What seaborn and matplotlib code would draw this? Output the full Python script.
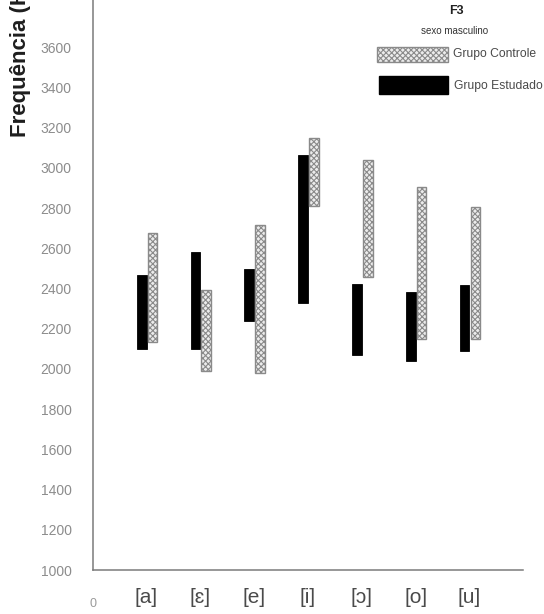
import numpy as np
import pandas as pd
import matplotlib
matplotlib.use("Agg")
import matplotlib.pyplot as plt
from matplotlib.patches import Rectangle
import seaborn as sns

# F3 ranges (Hz) per vowel, male speakers
vowels = ["[a]", "[ɛ]", "[e]", "[i]", "[ɔ]", "[o]", "[u]"]
estudado_low = [2100, 2100, 2240, 2330, 2070, 2040, 2090]
estudado_high = [2470, 2580, 2495, 3065, 2425, 2385, 2420]
controle_low = [2135, 1990, 1980, 2810, 2460, 2150, 2150]
controle_high = [2675, 2395, 2715, 3150, 3040, 2905, 2805]
y_ticks = list(range(1000, 3601, 200))

sns.set_theme(style="white")
plt.rcParams["font.family"] = ["Liberation Sans", "DejaVu Sans"]
plt.rcParams["hatch.linewidth"] = 0.8

pos = np.arange(1, len(vowels) + 1)
bar_w = 0.18

df_est = pd.DataFrame({
    "pos": pos - 0.09,
    "low": estudado_low,
    "span": np.array(estudado_high) - np.array(estudado_low),
})
df_ctl = pd.DataFrame({
    "pos": pos + 0.11,
    "low": controle_low,
    "span": np.array(controle_high) - np.array(controle_low),
})

fig = plt.figure(figsize=(5.44, 6.14), dpi=100)
ax = fig.add_axes([0.1704, 0.07166, 0.7915, 0.933])

sns.barplot(data=df_est, x="pos", y="span", orient="x", native_scale=True,
            width=bar_w, errorbar=None, bottom=df_est["low"].to_numpy(),
            color="black", saturation=1, facecolor="black", edgecolor="black",
            linewidth=0.6, ax=ax)
sns.barplot(data=df_ctl, x="pos", y="span", orient="x", native_scale=True,
            width=bar_w, errorbar=None, bottom=df_ctl["low"].to_numpy(),
            color="#ececec", saturation=1, facecolor="#ececec", edgecolor="#8a8a8a",
            hatch="xxxxxx", linewidth=1.0, ax=ax)

ax.set_xlim(0, 8)
ax.set_ylim(1000, 3850)
ax.set_xlabel("")
ax.set_ylabel("")

for side in ("top", "right"):
    ax.spines[side].set_visible(False)
for side in ("left", "bottom"):
    ax.spines[side].set_color("#7a7a7a")
    ax.spines[side].set_linewidth(1.1)

ax.set_yticks(y_ticks)
ax.set_yticklabels([str(v) for v in y_ticks])
ax.tick_params(axis="y", direction="out", length=9.4, width=1.1,
               color="#707070", labelcolor="#8c8c8c", labelsize=10, pad=5.8)

ax.set_xticks([0, 8])
ax.set_xticklabels(["0", ""])
ax.set_xticks(pos, vowels, minor=True)
ax.tick_params(axis="x", which="major", direction="out", length=13, width=1.1,
               color="#707070", labelcolor="#9a9a9a", labelsize=9, pad=7)
ax.tick_params(axis="x", which="minor", direction="out", length=7, width=1.1,
               color="#707070", labelcolor="#4a4a4a", labelsize=15, pad=6)

fig.text(21 / 544, 1 - 137 / 614, "Frequência (Hz)", rotation=90,
         ha="center", va="bottom", fontsize=16, fontweight="bold",
         color="#1e1e1e")


def px_rect(x0, y0, x1, y1, **kw):
    """Rectangle given in pixel coordinates measured from the top-left corner."""
    W, H = 544, 614
    return Rectangle((x0 / W, 1 - y1 / H), (x1 - x0) / W, (y1 - y0) / H,
                     transform=fig.transFigure, **kw)


fig.add_artist(px_rect(377, 47, 448, 62, facecolor="#ececec", edgecolor="#8a8a8a",
                       hatch="xxxxxx", linewidth=1.0))
fig.add_artist(px_rect(379, 76, 448, 94, facecolor="black", edgecolor="black"))
fig.text(453 / 544, 1 - 54 / 614, "Grupo Controle", ha="left", va="center",
         fontsize=8.7, color="#4a4a4a")
fig.text(454 / 544, 1 - 86 / 614, "Grupo Estudado", ha="left", va="center",
         fontsize=8.7, color="#4a4a4a")
fig.text(455 / 544, 1 - 31 / 614, "sexo masculino", ha="center", va="center",
         fontsize=7, color="#333333")
fig.text(456 / 544, 1 - 11 / 614, "F3", ha="center", va="center",
         fontsize=9, fontweight="bold", color="#222222")

fig.savefig("out.png", dpi=100)
